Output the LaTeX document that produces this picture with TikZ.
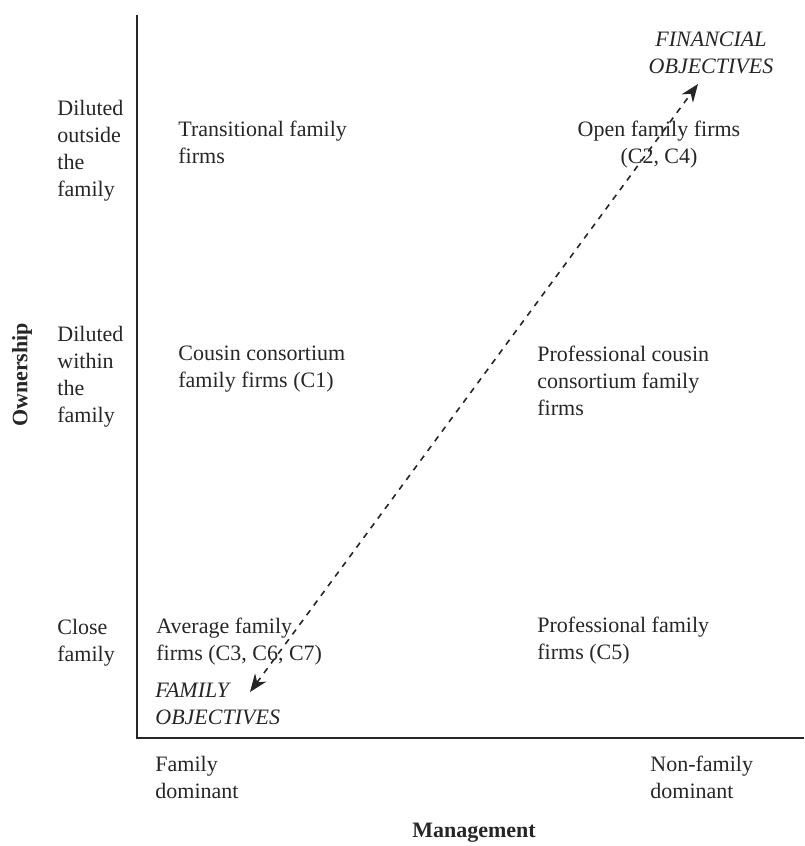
\documentclass[tikz,border=0pt]{standalone}
\usepackage{fontspec}
\setmainfont{Liberation Serif}
\usetikzlibrary{arrows.meta}
\definecolor{ink}{RGB}{38,38,38}
\tikzset{
  lbl/.style={anchor=north west, align=left, inner sep=0pt, text=ink, font=\fontsize{11}{13.5}\selectfont},
  clbl/.style={lbl, anchor=north, align=center},
  obj/.style={font=\fontsize{11}{13.5}\selectfont\itshape},
  axtitle/.style={inner sep=0pt, text=ink, font=\fontsize{11}{13.5}\selectfont\bfseries}
}
\begin{document}
\begin{tikzpicture}[x=0.5pt, y=-0.5pt]
\useasboundingbox (0,0) rectangle (804,846);
% axes
\coordinate (top) at (137,15);
\coordinate (o) at (137,738);
\coordinate (right) at (804,738);
\draw[ink, line width=1pt] (top) -- (o) -- (right);
% row labels
\node[lbl] (r3) at (57,100) {Diluted\\outside\\the\\family};
\node[lbl] (r2) at (57,326) {Diluted\\within\\the\\family};
\node[lbl] (r1) at (57,619) {Close\\family};
\node[axtitle, rotate=90] (own) at (22,375) {Ownership};
% column labels
\node[lbl] (c1) at (155,756) {Family\\dominant};
\node[lbl] (c2) at (650,756) {Non-family\\dominant};
\node[axtitle] (mgt) at (474,833) {Management};
% cells
\node[lbl] (a3) at (178,121) {Transitional family\\firms};
\node[lbl] (a2) at (178,346) {Cousin consortium\\family firms (C1)};
\node[lbl] (a1) at (156,618) {Average family\\firms (C3, C6, C7)};
\node[clbl] (b3) at (659,121) {Open family firms\\(C2, C4)};
\node[lbl] (b2) at (537,346) {Professional cousin\\consortium family\\firms};
\node[lbl] (b1) at (537,617) {Professional family\\firms (C5)};
% objectives
\node[lbl, obj] (fam) at (155,683) {FAMILY\\OBJECTIVES};
\node[clbl, obj] (fin) at (711,32) {FINANCIAL\\OBJECTIVES};
\coordinate (p1) at (250,692);
\coordinate (p2) at (698,84);
\draw[ink, dashed, line width=0.8pt, {Stealth[length=9pt,width=7pt]}-{Stealth[length=9pt,width=7pt]}] (p1) -- (p2);
\end{tikzpicture}
\end{document}
